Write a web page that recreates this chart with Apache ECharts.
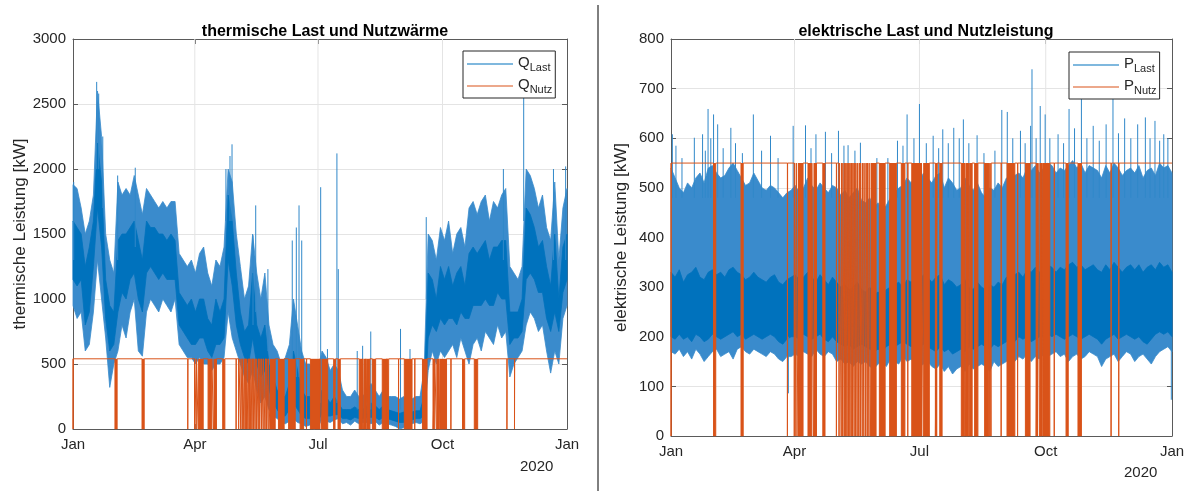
<!DOCTYPE html>
<html>
<head>
<meta charset="utf-8">
<script src="https://cdn.jsdelivr.net/npm/echarts@6/dist/echarts.min.js"></script>
<style>
html, body { margin: 0; padding: 0; background: #fff; }
#chart { width: 1194px; height: 491px; }
</style>
</head>
<body>
<div id="chart"></div>
<script>
// x = days since 1 Jan 2019
const monthTicks = [0, 90, 181, 273, 365];
const monthLabels = ['Jan', 'Apr', 'Jul', 'Oct', 'Jan'];

// thermische Last, one value per ~3-day bin: outer envelope and dense core
const qLastHi = [1880, 1850, 1700, 1500, 1600, 1800, 2600, 2250, 1500, 1300, 1200, 1900, 1800, 1850, 1800, 1950,
  1800, 1650, 1850, 1800, 1750, 1700, 1750, 1700, 1750, 1750, 1350, 1300, 1250, 1300, 1200, 1350,
  1400, 1200, 1100, 1300, 1250, 1400, 2000, 1900, 1500, 1250, 1000, 1100, 1500, 1200, 1000, 1200,
  800, 650, 600, 500, 550, 650, 1000, 800, 600, 500, 500, 400, 450, 600, 550, 450,
  500, 450, 300, 250, 250, 300, 250, 250, 300, 350, 300, 250, 300, 250, 250, 250,
  230, 250, 200, 230, 250, 250, 450, 1500, 1450, 1300, 1550, 1450, 1600, 1350, 1500, 1550,
  1400, 1700, 1750, 1650, 1750, 1800, 1600, 1750, 1700, 1800, 1850, 1250, 1200, 1150, 1250, 2000,
  1950, 1850, 1700, 1800, 1550, 1450, 1900, 1300, 1700, 1850];
const qLastLo = [950, 850, 900, 600, 650, 900, 1300, 1000, 700, 320, 500, 600, 800, 700, 900, 1000,
  600, 560, 900, 1000, 950, 900, 1000, 950, 900, 1000, 650, 600, 550, 550, 500, 550,
  500, 500, 450, 500, 500, 550, 900, 700, 600, 500, 400, 350, 450, 300, 200, 250,
  150, 100, 80, 50, 40, 60, 80, 50, 40, 20, 30, 0, 10, 80, 60, 50,
  70, 80, 40, 50, 30, 60, 40, 50, 50, 40, 60, 30, 50, 40, 30, 20,
  0, 10, 30, 40, 50, 40, 60, 450, 600, 500, 600, 550, 600, 650, 550, 700,
  600, 500, 650, 700, 600, 750, 700, 650, 800, 700, 750, 400, 500, 550, 600, 800,
  900, 850, 750, 800, 600, 430, 600, 500, 850, 950];
const qCoreHi = [1600, 1550, 1500, 1250, 1400, 1600, 2200, 1900, 1150, 950, 900, 1450, 1500, 1500, 1550, 1600,
  1450, 1300, 1600, 1550, 1550, 1500, 1500, 1450, 1500, 1450, 1050, 1000, 950, 1000, 900, 1000,
  1000, 850, 800, 1000, 900, 1000, 1800, 1600, 1200, 900, 750, 800, 1200, 800, 700, 800,
  500, 400, 300, 250, 250, 350, 600, 450, 300, 250, 250, 200, 200, 300, 250, 200,
  250, 200, 150, 150, 150, 170, 150, 150, 180, 200, 180, 150, 180, 150, 140, 130,
  120, 130, 120, 130, 140, 140, 250, 1200, 1150, 1000, 1250, 1150, 1250, 1100, 1200, 1250,
  1100, 1350, 1400, 1350, 1400, 1450, 1300, 1400, 1400, 1450, 1450, 900, 900, 900, 1000, 1700,
  1650, 1550, 1400, 1450, 1250, 1100, 1500, 1000, 1400, 1500];
const qCoreLo = [1150, 1100, 1150, 800, 900, 1250, 1700, 1400, 850, 600, 650, 900, 1050, 1000, 1150, 1200,
  1000, 900, 1200, 1250, 1200, 1150, 1200, 1150, 1150, 1150, 800, 750, 700, 650, 650, 700,
  700, 600, 550, 650, 650, 700, 1300, 1100, 800, 650, 550, 500, 700, 500, 400, 450,
  300, 200, 150, 100, 100, 150, 200, 150, 100, 80, 80, 50, 60, 120, 100, 100,
  110, 110, 80, 80, 70, 90, 80, 80, 90, 90, 90, 70, 90, 80, 70, 60,
  50, 50, 60, 70, 80, 80, 100, 700, 800, 750, 850, 800, 850, 850, 800, 900,
  850, 850, 950, 950, 950, 1000, 950, 950, 1050, 1000, 1000, 650, 700, 700, 750, 1150,
  1200, 1150, 1050, 1050, 850, 750, 900, 750, 1050, 1150];
// single thin spikes above the envelope: day, foot, top
const qSpikeDay = [0.5, 17.5, 19, 22, 33, 46, 113, 116, 117.5, 133, 135, 144, 162, 165, 167, 169, 183, 188, 195, 196,
  210, 214, 220, 242, 249, 261, 318, 333, 355, 364];
const qSpikeFoot = [1300, 2000, 2000, 1700, 1300, 1400, 1600, 1600, 1600, 800, 900, 600, 400, 400, 400, 400, 200, 200, 200, 200,
  150, 150, 150, 150, 150, 1000, 1300, 1600, 1300, 1300];
const qSpikeTop = [1900, 2670, 2580, 2250, 1950, 2010, 2000, 2100, 2190, 1490, 1720, 1230, 1450, 1550, 1720, 1450, 1860, 615, 2120, 1230,
  600, 640, 750, 770, 615, 1630, 2000, 2620, 2000, 2020];

// elektrische Last, same bins
const pLastHi = [540, 520, 500, 490, 510, 500, 520, 530, 510, 540, 545, 530, 520, 525, 540, 550,
  535, 520, 505, 510, 530, 515, 500, 495, 505, 500, 490, 480, 490, 495, 505, 490,
  500, 520, 505, 495, 510, 500, 490, 505, 500, 485, 495, 480, 490, 500, 475, 470,
  480, 460, 470, 455, 465, 480, 490, 500, 505, 520, 510, 525, 515, 530, 520, 510,
  525, 530, 500, 520, 510, 495, 500, 520, 505, 495, 510, 490, 480, 500, 495, 510,
  500, 520, 515, 525, 530, 520, 540, 535, 545, 530, 540, 550, 545, 530, 540, 535,
  545, 555, 540, 550, 530, 545, 540, 535, 520, 545, 530, 550, 540, 525, 535, 540,
  530, 545, 520, 535, 540, 525, 550, 540, 545, 530];
const pLastLo = [170, 165, 175, 160, 170, 155, 175, 165, 150, 160, 170, 175, 160, 165, 170, 155,
  175, 180, 170, 165, 175, 170, 165, 160, 170, 165, 155, 150, 160, 160, 165, 160,
  170, 165, 160, 175, 165, 160, 170, 165, 150, 155, 145, 150, 140, 150, 145, 150,
  140, 135, 145, 150, 140, 155, 150, 145, 160, 150, 155, 145, 140, 145, 150, 140,
  135, 145, 130, 140, 125, 135, 140, 130, 145, 135, 140, 145, 140, 130, 150, 140,
  145, 150, 155, 150, 160, 155, 165, 150, 160, 155, 165, 160, 165, 170, 160, 165,
  150, 160, 165, 155, 160, 170, 165, 160, 140, 155, 160, 165, 150, 160, 170, 165,
  150, 160, 165, 155, 145, 160, 170, 175, 180, 170];
const pCoreHi = [330, 320, 335, 310, 325, 330, 340, 320, 315, 330, 335, 325, 330, 320, 335, 340,
  330, 325, 315, 320, 330, 320, 315, 310, 320, 325, 310, 305, 315, 320, 325, 315,
  320, 330, 320, 310, 325, 315, 305, 320, 310, 300, 305, 295, 300, 310, 295, 290,
  300, 285, 290, 285, 295, 300, 305, 310, 300, 315, 310, 320, 315, 325, 320, 310,
  320, 325, 305, 315, 310, 300, 305, 315, 300, 295, 310, 300, 295, 305, 300, 310,
  305, 320, 315, 325, 330, 320, 335, 330, 340, 330, 335, 345, 340, 330, 340, 335,
  345, 350, 340, 345, 335, 340, 345, 335, 330, 345, 335, 350, 340, 330, 340, 345,
  335, 345, 330, 340, 345, 335, 350, 340, 345, 330];
const pCoreLo = [200, 195, 205, 195, 200, 190, 205, 200, 190, 195, 205, 200, 195, 200, 205, 210,
  200, 205, 195, 200, 205, 200, 195, 200, 205, 200, 190, 185, 195, 200, 200, 195,
  205, 200, 195, 200, 205, 195, 190, 200, 190, 185, 180, 185, 175, 180, 185, 180,
  175, 170, 175, 170, 180, 185, 180, 185, 190, 185, 180, 185, 180, 185, 180, 175,
  170, 180, 170, 175, 165, 170, 175, 170, 180, 175, 180, 185, 180, 175, 185, 180,
  185, 190, 195, 190, 200, 195, 200, 190, 195, 200, 200, 205, 200, 205, 200, 195,
  200, 205, 200, 195, 200, 205, 200, 195, 185, 195, 200, 205, 195, 200, 205, 200,
  195, 200, 190, 185, 195, 205, 210, 205, 210, 200];
const pSpikeDay = [1, 3.6, 8, 17, 23, 25, 27, 29, 31, 34, 38, 43.6, 47, 52, 60, 66, 72.5, 78, 85.5, 89,
  98, 102, 105.6, 112.5, 117, 122, 126, 129, 134, 138, 150, 158, 165, 169, 172, 177, 181, 186, 191, 195,
  198, 202, 206, 210, 213, 217, 223, 228, 236, 241, 245, 249, 254.6, 258, 262, 263, 266, 269, 272.6, 276,
  282, 286, 290, 294, 299, 303, 307.6, 312, 317, 322, 326, 330.5, 335, 340, 345.6, 349, 352.6, 356, 359, 362, 364.5];
const pSpikeFoot = [480, 480, 480, 480, 480, 480, 480, 480, 480, 480, 480, 480, 480, 480, 480, 480, 480, 480, 200, 480,
  480, 480, 480, 480, 480, 480, 480, 480, 480, 480, 460, 460, 480, 480, 480, 480, 480, 480, 480, 480,
  480, 480, 480, 480, 480, 480, 480, 480, 480, 480, 480, 480, 480, 480, 480, 480, 480, 480, 480, 480,
  480, 480, 480, 480, 480, 480, 480, 480, 480, 480, 480, 480, 480, 480, 480, 480, 480, 480, 480, 480, 200];
const pSpikeTop = [608, 585, 560, 601, 608, 575, 659, 600, 648, 628, 580, 621, 590, 570, 648, 575, 605, 560, 86, 625,
  626, 580, 608, 613, 570, 615, 585, 586, 575, 591, 560, 560, 595, 585, 648, 600, 669, 590, 605, 580,
  618, 590, 621, 600, 638, 590, 606, 570, 575, 657, 653, 600, 615, 590, 625, 739, 600, 665, 648, 600,
  608, 590, 659, 620, 679, 600, 625, 595, 628, 692, 610, 640, 600, 628, 642, 600, 635, 595, 608, 600, 73];

// Nutz: constant output, dropping to 0 in these intervals (same for both plots)
const qNutzMax = 540;
const pNutzMax = 550;
const offStart = [0, 31, 51, 84.8, 89.8, 91, 92.4, 99.8, 103.8, 110.6, 120.5, 122.4, 124, 125.1, 126.2, 127.3,
  128.2, 129.2, 130.3, 131.3, 132.2, 133.4, 134.5, 135.6, 136.8, 138, 139.3, 140.5, 141.8, 143, 144.2, 145.4,
  151.8, 159.3, 167.8, 172.5, 175.4, 183.7, 192.6, 195.8, 211.5, 214.6, 217.2, 221.2, 228.5, 232.3, 233.1, 240.5,
  244.8, 252.5, 258.2, 266, 268.4, 271, 279.2, 287.8, 296.5, 320.6, 326.2];
const offEnd = [0.15, 32.6, 52.6, 84.95, 89.95, 91.3, 96.2, 102.6, 106, 112.2, 120.65, 122.55, 124.15, 125.25, 126.6, 127.45,
  128.35, 129.6, 130.45, 131.45, 132.6, 133.55, 134.65, 135.75, 137.2, 138.15, 139.45, 140.65, 142.2, 143.15, 144.35, 149.4,
  156, 164.2, 170.4, 172.65, 182.5, 188.2, 194, 197.5, 214, 216.6, 219.4, 223.6, 231.6, 232.45, 233.25, 240.65,
  250.5, 252.65, 261.6, 267.4, 270.4, 276, 279.35, 289.4, 299, 320.75, 326.35];

const blue = '#0072BD';
const blueLight = '#3a8bcc';
const spikeBlue = '#3088c9';
const orange = '#D95319';
const ink = '#262626';
const boxColor = '#5a5a5a';
const gridColor = '#e4e4e4';
const font = 'Liberation Sans, Arial, sans-serif';

function binX(i, n) {
  return i * 365 / (n - 1);
}

function nutzLine(level) {
  const pts = [];
  for (let i = 0; i < offStart.length; i++) {
    pts.push([offStart[i], level], [offStart[i], 0], [offEnd[i], 0], [offEnd[i], level]);
  }
  pts.push([365, level]);
  return pts;
}

function nutzFill(level) {
  return offStart.map((s, i) => [s, offEnd[i], level]);
}

function renderFill(params, api) {
  const p0 = api.coord([api.value(0), api.value(2)]);
  const p1 = api.coord([api.value(1), 0]);
  return {
    type: 'rect',
    shape: { x: p0[0], y: p0[1], width: Math.max(p1[0] - p0[0], 0), height: p1[1] - p0[1] },
    style: { fill: orange }
  };
}

// band between hi and lo envelopes, drawn as one polygon through the axis scales
function bandRenderer(hi, lo, fill) {
  return function (params, api) {
    const n = hi.length;
    const pts = [];
    for (let i = 0; i < n; i++) pts.push(api.coord([binX(i, n), hi[i]]));
    for (let i = n - 1; i >= 0; i--) pts.push(api.coord([binX(i, n), lo[i]]));
    return { type: 'polygon', shape: { points: pts }, style: { fill: fill, stroke: fill, lineWidth: 0.8 } };
  };
}

function renderSpike(params, api) {
  const a = api.coord([api.value(0), api.value(1)]);
  const b = api.coord([api.value(0), api.value(2)]);
  return {
    type: 'line',
    shape: { x1: a[0], y1: a[1], x2: b[0], y2: b[1] },
    style: { stroke: spikeBlue, lineWidth: 1 }
  };
}

function renderGridX(params, api) {
  const top = api.coord([api.value(0), api.value(1)]);
  const bottom = api.coord([api.value(0), 0]);
  return {
    type: 'line',
    shape: { x1: top[0], y1: top[1], x2: bottom[0], y2: bottom[1] },
    style: { stroke: gridColor, lineWidth: 1 }
  };
}

function xAxisCfg(gridIndex, pos) {
  const bottom = pos === 'bottom';
  return {
    type: 'value', gridIndex: gridIndex, position: pos, min: 0, max: 365,
    axisLine: { show: true, onZero: false, lineStyle: { color: boxColor, width: 1 } },
    axisTick: { show: true, inside: true, length: 5, customValues: monthTicks, lineStyle: { color: boxColor } },
    axisLabel: {
      show: bottom, customValues: monthTicks, margin: 8,
      color: ink, fontSize: 15, fontFamily: font,
      formatter: function (v) { return monthLabels[monthTicks.indexOf(v)]; }
    },
    splitLine: { show: false }
  };
}

function yAxisCfg(gridIndex, pos, max, interval, name) {
  const left = pos === 'left';
  return {
    type: 'value', gridIndex: gridIndex, position: pos, min: 0, max: max, interval: interval,
    name: left ? name : '', nameLocation: 'middle', nameGap: 41,
    nameTextStyle: { color: ink, fontSize: 17, fontFamily: font },
    axisLine: { show: true, onZero: false, lineStyle: { color: boxColor, width: 1 } },
    axisTick: { show: true, inside: true, length: 5, lineStyle: { color: boxColor } },
    axisLabel: { show: left, color: ink, fontSize: 15, margin: 7, fontFamily: font,
      formatter: function (v) { return String(v); } },
    splitLine: { show: left, lineStyle: { color: gridColor, width: 1 } }
  };
}

function legendCfg(left, top, letter, names) {
  return {
    orient: 'vertical', left: left, top: top,
    data: names,
    icon: 'rect', itemWidth: 46, itemHeight: 1, itemGap: 2,
    backgroundColor: '#fff', borderColor: ink, borderWidth: 1, borderRadius: 0,
    padding: [2, 3, 3, 4],
    formatter: function (n) { return '{b|' + letter + '}{s|' + n.slice(1) + '}'; },
    textStyle: {
      color: ink, fontFamily: font,
      rich: {
        b: { fontSize: 15, lineHeight: 18, verticalAlign: 'top', color: ink },
        s: { fontSize: 11, lineHeight: 11, padding: [9, 0, 0, 0], verticalAlign: 'bottom', color: ink }
      }
    },
    selectedMode: false
  };
}

// blue load: lighter outer band, dark core band, thin spikes
function loadSeries(name, xi, yi, hi, lo, coreHi, coreLo, spikeDay, spikeFoot, spikeTop) {
  return [
    { type: 'custom', name: name, xAxisIndex: xi, yAxisIndex: yi, z: 2, silent: true, color: blue,
      itemStyle: { color: blue }, renderItem: bandRenderer(hi, lo, blueLight), data: [[0, 0]] },
    { type: 'custom', name: name + 'Core', xAxisIndex: xi, yAxisIndex: yi, z: 2, silent: true,
      renderItem: bandRenderer(coreHi, coreLo, blue), data: [[0, 0]] },
    { type: 'custom', name: name + 'Spikes', xAxisIndex: xi, yAxisIndex: yi, z: 2, silent: true,
      encode: { x: 0, y: [1, 2] }, renderItem: renderSpike,
      data: spikeDay.map((d, i) => [d, spikeFoot[i], spikeTop[i]]) }
  ];
}

function nutzSeries(name, xi, yi, level) {
  return [
    { type: 'custom', name: name + 'Fill', xAxisIndex: xi, yAxisIndex: yi, z: 3, silent: true,
      encode: { x: [0, 1], y: 2 }, renderItem: renderFill, data: nutzFill(level) },
    { type: 'line', name: name, xAxisIndex: xi, yAxisIndex: yi, z: 4, data: nutzLine(level),
      showSymbol: false, symbol: 'none', color: orange, lineStyle: { width: 1, color: orange } }
  ];
}

const chart = echarts.init(document.getElementById('chart'), null, { renderer: 'canvas' });

const option = {
  animation: false,
  backgroundColor: '#fff',
  title: [
    { text: 'thermische Last und Nutzwärme', left: 320, top: 19, textAlign: 'center',
      textStyle: { fontSize: 16, fontWeight: 'bold', color: '#000', fontFamily: font } },
    { text: 'elektrische Last und Nutzleistung', left: 921, top: 19, textAlign: 'center',
      textStyle: { fontSize: 16, fontWeight: 'bold', color: '#000', fontFamily: font } }
  ],
  legend: [
    legendCfg(463, 51, 'Q', ['QLast', 'QNutz']),
    legendCfg(1069, 52, 'P', ['PLast', 'PNutz'])
  ],
  grid: [
    { left: 73, top: 39, width: 494, height: 390 },
    { left: 671, top: 39, width: 501, height: 397 }
  ],
  xAxis: [
    xAxisCfg(0, 'bottom'), xAxisCfg(0, 'top'),
    xAxisCfg(1, 'bottom'), xAxisCfg(1, 'top')
  ],
  yAxis: [
    yAxisCfg(0, 'left', 3000, 500, 'thermische Leistung [kW]'), yAxisCfg(0, 'right', 3000, 500, ''),
    yAxisCfg(1, 'left', 800, 100, 'elektrische Leistung [kW]'), yAxisCfg(1, 'right', 800, 100, '')
  ],
  graphic: [
    { type: 'line', shape: { x1: 598, y1: 5, x2: 598, y2: 491 }, style: { stroke: '#000', lineWidth: 1 } },
    { type: 'text', left: 520, top: 459, style: { text: '2020', fontSize: 15, fill: ink, fontFamily: font } },
    { type: 'text', left: 1124, top: 465, style: { text: '2020', fontSize: 15, fill: ink, fontFamily: font } }
  ],
  series: [].concat(
    [{ type: 'custom', name: 'gridQ', xAxisIndex: 0, yAxisIndex: 0, z: 1, silent: true,
      renderItem: renderGridX, data: monthTicks.slice(1, 4).map(v => [v, 3000]) }],
    loadSeries('QLast', 0, 0, qLastHi, qLastLo, qCoreHi, qCoreLo, qSpikeDay, qSpikeFoot, qSpikeTop),
    nutzSeries('QNutz', 0, 0, qNutzMax),
    [{ type: 'custom', name: 'gridP', xAxisIndex: 2, yAxisIndex: 2, z: 1, silent: true,
      renderItem: renderGridX, data: monthTicks.slice(1, 4).map(v => [v, 800]) }],
    loadSeries('PLast', 2, 2, pLastHi, pLastLo, pCoreHi, pCoreLo, pSpikeDay, pSpikeFoot, pSpikeTop),
    nutzSeries('PNutz', 2, 2, pNutzMax)
  )
};

chart.setOption(option);
</script>
</body>
</html>
